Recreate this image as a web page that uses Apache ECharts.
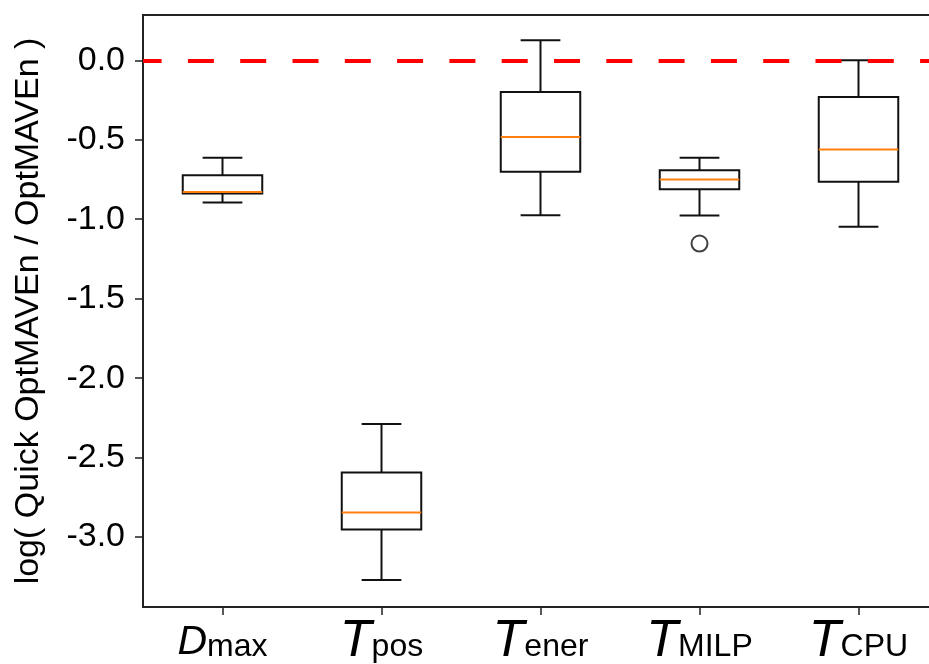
<!DOCTYPE html>
<html>
<head>
<meta charset="utf-8">
<script src="https://cdn.jsdelivr.net/npm/echarts@6/dist/echarts.min.js"></script>
<style>
  html, body { margin: 0; padding: 0; background: #fff; }
  #chart { width: 929px; height: 664px; }
</style>
</head>
<body>
<div id="chart"></div>
<script>
// categories: main letter + subscript
var mainLetters = ['D', 'T', 'T', 'T', 'T'];
var subLetters = ['max', 'pos', 'ener', 'MILP', 'CPU'];

// box statistics
var whiskerLow = [-0.895, -3.270, -0.975, -0.977, -1.048];
var q1 = [-0.838, -2.952, -0.702, -0.811, -0.765];
var median = [-0.828, -2.845, -0.482, -0.750, -0.562];
var q3 = [-0.723, -2.593, -0.199, -0.692, -0.231];
var whiskerHigh = [-0.614, -2.289, 0.126, -0.614, 0.000];

// outliers: [category index, value]
var outliers = [[3, -1.153]];

// y tick labels
var yTicks = [0, -0.5, -1.0, -1.5, -2.0, -2.5, -3.0];

var sans = "'Liberation Sans', Arial, sans-serif";

var boxData = mainLetters.map(function (m, i) {
    return [i, whiskerLow[i], q1[i], median[i], q3[i], whiskerHigh[i]];
});

function renderBox(params, api) {
    var idx = api.value(0);
    var band = api.size([1, 0])[0];
    var half = band * 0.25;
    var cap = band * 0.125;
    var pLow = api.coord([idx, api.value(1)]);
    var pQ1 = api.coord([idx, api.value(2)]);
    var pMed = api.coord([idx, api.value(3)]);
    var pQ3 = api.coord([idx, api.value(4)]);
    var pHigh = api.coord([idx, api.value(5)]);
    var x = pQ1[0];
    var black = { stroke: '#111', lineWidth: 2, fill: null };
    return {
        type: 'group',
        children: [
            { type: 'line', shape: { x1: x, y1: pHigh[1], x2: x, y2: pQ3[1] }, style: black },
            { type: 'line', shape: { x1: x, y1: pQ1[1], x2: x, y2: pLow[1] }, style: black },
            { type: 'line', shape: { x1: x - cap, y1: pHigh[1], x2: x + cap, y2: pHigh[1] }, style: black },
            { type: 'line', shape: { x1: x - cap, y1: pLow[1], x2: x + cap, y2: pLow[1] }, style: black },
            { type: 'rect', shape: { x: x - half, y: pQ3[1], width: half * 2, height: pQ1[1] - pQ3[1] },
              style: { stroke: '#111', lineWidth: 2, fill: 'rgba(0,0,0,0)' } },
            { type: 'line', shape: { x1: x - half, y1: pMed[1], x2: x + half, y2: pMed[1] },
              style: { stroke: '#ff7f0e', lineWidth: 2 } }
        ]
    };
}

var myChart = echarts.init(document.getElementById('chart'), null, { renderer: 'canvas' });
var option = {
    backgroundColor: '#fff',
    animation: false,
    grid: {
        left: 143,
        top: 15,
        width: 795,
        height: 592,
        show: true,
        borderColor: '#222',
        borderWidth: 2,
        containLabel: false,
        outerBoundsMode: 'none'
    },
    xAxis: {
        type: 'category',
        data: subLetters,
        boundaryGap: true,
        axisLine: { show: true, onZero: false, lineStyle: { color: '#222', width: 2 } },
        axisTick: { show: true, alignWithLabel: true, length: 8, lineStyle: { color: '#222', width: 1.5 } },
        splitLine: { show: false },
        axisLabel: {
            margin: 12,
            interval: 0,
            color: '#000',
            formatter: function (v, i) {
                var key = mainLetters[i] === 'D' ? 'd' : 't';
                return '{' + key + '|' + mainLetters[i] + '}{s|' + subLetters[i] + '}';
            },
            rich: {
                d: { fontSize: 41, fontStyle: 'italic', fontFamily: sans, color: '#000', verticalAlign: 'bottom', lineHeight: 44 },
                t: { fontSize: 52, fontStyle: 'italic', fontFamily: sans, color: '#000', verticalAlign: 'bottom', lineHeight: 44, padding: [0, 0, -5, 0] },
                s: { fontSize: 32, fontFamily: sans, color: '#000', verticalAlign: 'bottom', lineHeight: 44 }
            }
        }
    },
    yAxis: {
        type: 'value',
        min: -3.44,
        max: 0.285,
        name: 'log( Quick OptMAVEn / OptMAVEn )',
        nameLocation: 'middle',
        nameGap: 97,
        nameTextStyle: { fontSize: 34, fontFamily: sans, color: '#000' },
        axisLine: { show: true, lineStyle: { color: '#222', width: 2 } },
        axisTick: { show: true, length: 8, customValues: yTicks, lineStyle: { color: '#222', width: 1.5 } },
        splitLine: { show: false },
        axisLabel: {
            customValues: yTicks,
            margin: 18,
            color: '#000',
            fontSize: 34,
            fontFamily: sans,
            formatter: function (v) { return v.toFixed(1); }
        }
    },
    series: [
        {
            type: 'custom',
            renderItem: renderBox,
            encode: { x: 0, y: [1, 2, 3, 4, 5] },
            data: boxData,
            z: 3
        },
        {
            type: 'scatter',
            data: outliers,
            symbol: 'circle',
            symbolSize: 16,
            itemStyle: { color: '#fff', borderColor: '#111', borderWidth: 2 },
            z: 4
        },
        {
            type: 'line',
            data: [],
            z: 6,
            markLine: {
                silent: true,
                symbol: 'none',
                label: { show: false },
                lineStyle: { color: '#ff0000', width: 4, type: [26, 26.3], dashOffset: 7.4 },
                data: [{ yAxis: 0 }]
            }
        }
    ]
};
myChart.setOption(option);
</script>
</body>
</html>
